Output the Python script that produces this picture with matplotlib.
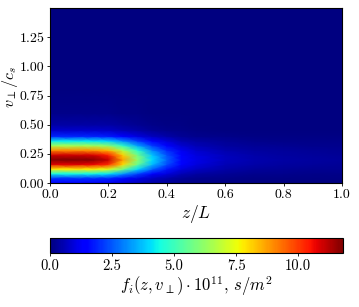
import numpy as np
import matplotlib
matplotlib.use("Agg")
import matplotlib.pyplot as plt

plt.rcParams['font.family'] = 'serif'
plt.rcParams['font.serif'] = ['cmr10']
plt.rcParams['mathtext.fontset'] = 'cm'
plt.rcParams['axes.formatter.use_mathtext'] = True

# Grid nodes
z_nodes = [0.0, 0.1, 0.15, 0.2, 0.25, 0.3, 0.35, 0.4, 0.45, 0.5, 0.6, 0.7, 0.8, 0.9, 1.0]
v_nodes = [0.0, 0.04, 0.08, 0.12, 0.16, 0.20, 0.24, 0.28, 0.32, 0.36, 0.40,
           0.45, 0.50, 0.60, 0.80, 1.00, 1.50]

# Velocity profile at the source (z = 0), in units of 1e-11 s/m^2
v_profile = [1.3, 2.0, 4.4, 7.8, 10.8, 11.8, 11.0, 9.0, 6.5, 4.2, 1.9,
             0.8, 0.4, 0.12, 0.02, 0.0, 0.0]
# Relative amplitude along z
z_amplitude = [1.0, 1.0, 0.99, 0.94, 0.74, 0.52, 0.34, 0.22, 0.13, 0.09,
               0.055, 0.04, 0.032, 0.028, 0.025]

cbar_ticks = [0.0, 2.5, 5.0, 7.5, 10.0]
x_ticks = [0.0, 0.2, 0.4, 0.6, 0.8, 1.0]
y_ticks = [0.0, 0.25, 0.5, 0.75, 1.0, 1.25]

field = np.outer(v_profile, z_amplitude)

fig = plt.figure(figsize=(3.59, 3.07), dpi=100)
ax = fig.add_axes([50/359, 1-183/307, 292/359, 175/307])
mesh = ax.pcolormesh(z_nodes, v_nodes, field, cmap='jet', shading='gouraud',
                     vmin=0, vmax=11.8, rasterized=True)
ax.set_xlim(0, 1)
ax.set_ylim(0, 1.5)
ax.set_xticks(x_ticks)
ax.set_xticklabels([f"{t:.1f}" for t in x_ticks])
ax.set_yticks(y_ticks)
ax.set_yticklabels([f"{t:.2f}" for t in y_ticks])
ax.tick_params(labelsize=10, length=2.5, width=0.6, pad=1.5)
ax.set_xlabel(r'$z/L$', fontsize=12.5, labelpad=2)
ax.set_ylabel(r'$v_\perp/c_s$', fontsize=11.5)
ax.yaxis.set_label_coords(-0.103, 0.55)

cax = fig.add_axes([50/359, 1-253/307, 293/359, 15/307])
cb = fig.colorbar(mesh, cax=cax, orientation='horizontal')
cb.set_ticks(cbar_ticks)
cb.set_ticklabels([f"{t:.1f}" for t in cbar_ticks])
cax.tick_params(labelsize=10.5, length=2.5, width=0.6, pad=2)
cb.set_label(r'$f_i(z, v_\perp)\cdot 10^{11},\, s/m^2$', fontsize=12, labelpad=1)

fig.savefig('out.png', dpi=100)
